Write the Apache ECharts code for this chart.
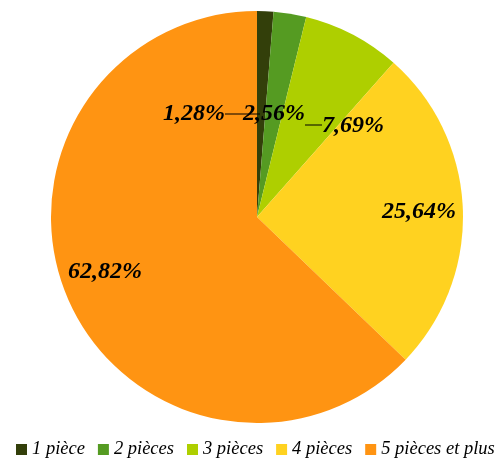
<!DOCTYPE html>
<html>
<head>
<meta charset="utf-8">
<script src="https://cdn.jsdelivr.net/npm/echarts@6/dist/echarts.min.js"></script>
<style>
  html, body { margin: 0; padding: 0; background: #ffffff; }
  #chart { width: 497px; height: 458px; }
</style>
</head>
<body>
<div id="chart"></div>
<script>
// Répartition des logements par nombre de pièces (%)
const categories = ['1 pièce', '2 pièces', '3 pièces', '4 pièces', '5 pièces et plus'];
const shares = [1.28, 2.56, 7.69, 25.64, 62.82];
const colors = ['#333f0a', '#559b22', '#aecf00', '#ffd220', '#ff9412'];

// Centre of each percentage label
const labelSpots = [[194, 114], [274, 114], [353, 126], [419, 212], [105, 272]];

const chart = echarts.init(document.getElementById('chart'), null, { renderer: 'canvas' });

const serif = 'Liberation Serif, Times New Roman, serif';

// Short horizontal leader lines next to the two smallest labels
const leaders = [
  { from: [labelSpots[0][0] + 31, labelSpots[0][1]], to: [labelSpots[0][0] + 66, labelSpots[0][1]] },
  { from: [labelSpots[2][0] - 48, labelSpots[2][1] - 1], to: [labelSpots[2][0] - 31, labelSpots[2][1] - 1] }
];

chart.setOption({
  animation: false,
  color: colors,
  legend: {
    left: 16,
    top: 440,
    width: 700,
    padding: 0,
    itemWidth: 11,
    itemHeight: 11,
    itemGap: 13,
    icon: 'rect',
    textStyle: {
      fontFamily: serif,
      fontStyle: 'italic',
      fontSize: 18.5,
      color: '#000000'
    },
    data: categories
  },
  graphic: leaders.map(l => ({
    type: 'line',
    z: 100,
    shape: { x1: l.from[0], y1: l.from[1], x2: l.to[0], y2: l.to[1] },
    style: { stroke: '#000000', lineWidth: 1 }
  })),
  series: [{
    type: 'pie',
    center: [257, 217],
    radius: 206,
    startAngle: 90,
    clockwise: true,
    avoidLabelOverlap: false,
    label: {
      show: true,
      position: 'inside',
      formatter: p => p.value.toFixed(2).replace('.', ',') + '%',
      color: '#000000',
      fontFamily: serif,
      fontStyle: 'italic',
      fontWeight: 'bold',
      fontSize: 24
    },
    labelLine: { show: false },
    labelLayout: function (params) {
      const spot = labelSpots[params.dataIndex];
      return { x: spot[0], y: spot[1], align: 'center', verticalAlign: 'middle' };
    },
    data: categories.map((name, i) => ({ name: name, value: shares[i] }))
  }]
});
</script>
</body>
</html>
